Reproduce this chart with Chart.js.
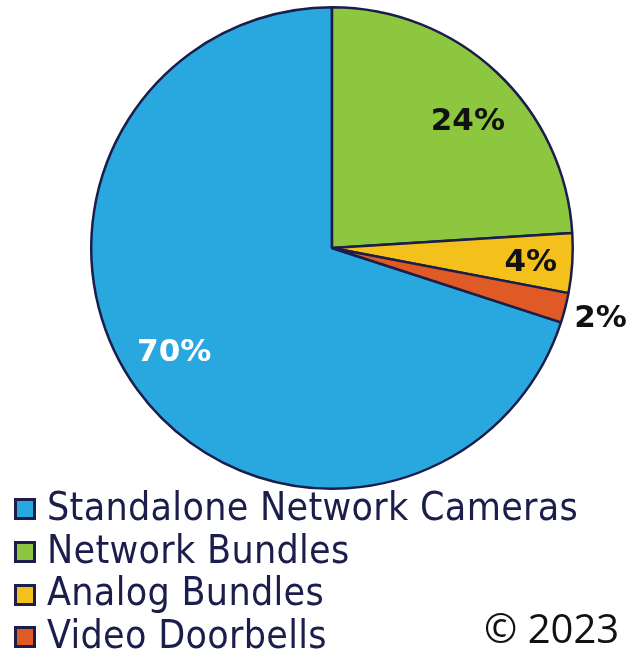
<!DOCTYPE html>
<html><head><meta charset="utf-8">
<script src="https://cdn.jsdelivr.net/npm/chart.js@4/dist/chart.umd.min.js"></script>
<style>
html,body{margin:0;padding:0;background:#fff;width:630px;height:653px;overflow:hidden;}
#wrap{position:relative;width:630px;height:653px;}
#c{position:absolute;left:0;top:0;}
#legend{position:absolute;left:14px;top:486px;font-family:"DejaVu Sans Condensed","DejaVu Sans",sans-serif;font-size:39px;letter-spacing:0.3px;color:#1b1e4b;}
.li{display:flex;align-items:center;height:42.7px;line-height:42.7px;white-space:nowrap;}
.sw{width:16px;height:16px;border:3px solid #1b1e4b;margin-right:11px;margin-top:4px;box-sizing:content-box;flex:none;}
#copy{position:absolute;left:484px;top:607.5px;font-family:"Open Sans",sans-serif;font-size:40px;line-height:40px;color:#111;white-space:nowrap;}
</style></head>
<body><div id="wrap"><canvas id="c" width="630" height="653"></canvas><div id="legend"></div><div id="copy">© 2023</div></div>
<script>
const categories = ["Standalone Network Cameras","Network Bundles","Analog Bundles","Video Doorbells"];
const shares = [70, 24, 4, 2];
const valueLabels = ["70%","24%","4%","2%"];
const colors = ["#29a8e0","#8dc63f","#f4c01c","#e05a25"];
const labelColors = ["#ffffff","#111111","#111111","#111111"];
const labelRadius = [0.787, 0.769, 0.828, 1.154];
const labelAngleShift = [2.4, 4.0, 0.7, 0.4];

const lg = document.getElementById('legend');
categories.forEach((c,i)=>{
  const d=document.createElement('div');d.className='li';
  const s=document.createElement('span');s.className='sw';s.style.background=colors[i];
  d.appendChild(s);d.appendChild(document.createTextNode(c));lg.appendChild(d);
});

const labelPlugin = {
  id:'sliceLabels',
  afterDatasetsDraw(chart){
    const ctx=chart.ctx;
    const meta=chart.getDatasetMeta(0);
    ctx.save();
    ctx.font='bold 31px "DejaVu Sans", sans-serif';
    ctx.textAlign='center';ctx.textBaseline='middle';
    meta.data.forEach((arc,i)=>{
      const p=arc.getProps(['x','y','startAngle','endAngle','outerRadius'],true);
      const a=(p.startAngle+p.endAngle)/2 + labelAngleShift[i]*Math.PI/180;
      const r=p.outerRadius*labelRadius[i];
      ctx.fillStyle=labelColors[i];
      ctx.fillText(valueLabels[i], p.x+Math.cos(a)*r, p.y+Math.sin(a)*r);
    });
    ctx.restore();
  }
};

new Chart(document.getElementById('c'),{
  type:'pie',
  data:{labels:categories,datasets:[{data:shares,backgroundColor:colors,borderColor:'#1b1e4b',borderWidth:2.5}]},
  options:{
    responsive:false,animation:false,rotation:108,
    layout:{padding:{left:90,top:6,right:56,bottom:163}},
    plugins:{legend:{display:false},tooltip:{enabled:false}}
  },
  plugins:[labelPlugin]
});
</script></body></html>
